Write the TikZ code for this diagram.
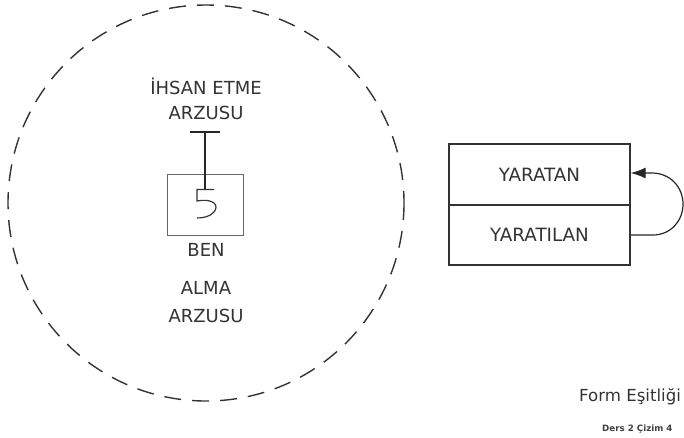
\documentclass[tikz,border=0pt]{standalone}
\usepackage{fontspec}
\setmainfont{DejaVu Sans}
\usetikzlibrary{arrows.meta}
\begin{document}
\begin{tikzpicture}[x=1pt,y=-1pt,
  lbl/.style={font=\fontsize{18}{21}\selectfont, text=black!80, inner sep=0pt, align=center},
  boxtxt/.style={font=\fontsize{18.3}{21}\selectfont, text=black!80, inner sep=0pt},
  frame/.style={draw=black!80, line width=1.4pt}]
\useasboundingbox (0,0) rectangle (684,437);
% dashed circle
\draw[black!80, line width=1.4pt, dash pattern=on 17pt off 11pt] (206,203) circle (198);
% inner texts
\node[lbl] (ihsan) at (206,86) {İHSAN ETME};
\node[lbl] (arz1) at (206,113) {ARZUSU};
\node[lbl] (ben) at (206,250) {BEN};
\node[lbl] (alma) at (206,288) {ALMA};
\node[lbl] (arz2) at (206,316) {ARZUSU};
% small box
\node[draw=black!60, line width=1pt, minimum width=76pt, minimum height=61pt, inner sep=0pt] (kutu) at (205,204.5) {};
% T bar and stem
\coordinate (bar) at (205,132);
\coordinate (stemend) at (205,189);
\draw[black!85, line width=1.4pt] ([xshift=-15pt]bar) -- ([xshift=15pt]bar);
\draw[black!85, line width=1.3pt] (bar) -- (stemend);
% "5" glyph
\draw[black!80, line width=1.2pt] (214,189.5) -- (197,189.5) -- (197,201)
   .. controls (215,198) and (219,206) .. (214,212)
   .. controls (210,217) and (202,218) .. (197,218);
% right boxes
\node[frame, minimum width=181pt, minimum height=61pt, inner sep=0pt] (yaratan) at (539.5,174.5) {};
\node[frame, minimum width=181pt, minimum height=60pt, inner sep=0pt] (yaratilan) at (539.5,235) {};
\node[boxtxt] (t1) at (yaratan.center) {YARATAN};
\node[boxtxt] (t2) at (yaratilan.center) {YARATILAN};
% loop arrow
\draw[black!85, line width=1.2pt, -{Latex[length=15pt,width=11pt]}]
  (yaratilan.east) -- ++(22,0)
  .. controls +(18,0) and +(0,17) .. (683,204)
  .. controls +(0,-17) and +(18,0) .. (652,173)
  -- (yaratan.east |- 0,173);
% bottom right texts
\node[anchor=base west, inner sep=0pt, font=\fontsize{16.6}{19}\selectfont, text=black!80] (form) at (579,401) {Form Eşitliği};
\node[anchor=base west, inner sep=0pt, font=\bfseries\fontsize{8.7}{10}\selectfont, text=black!75] (ders) at (602,431) {Ders 2 Çizim 4};
\end{tikzpicture}
\end{document}
